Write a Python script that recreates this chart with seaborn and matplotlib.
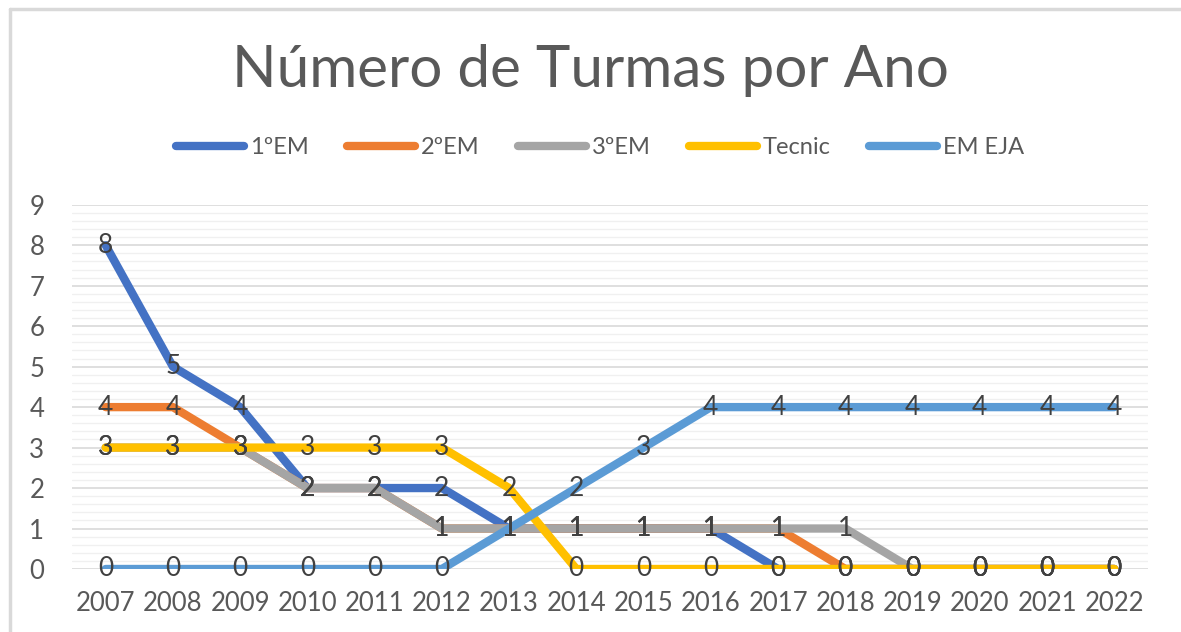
"""
Número de Turmas por Ano - line chart recreation
"""
import numpy as np
import pandas as pd
import matplotlib
matplotlib.use("Agg")
import matplotlib.pyplot as plt
from matplotlib.lines import Line2D
import seaborn as sns

# Data
years = [2007, 2008, 2009, 2010, 2011, 2012, 2013, 2014,
         2015, 2016, 2017, 2018, 2019, 2020, 2021, 2022]
series_names = ['1ºEM', '2ºEM', '3ºEM', 'Tecnic', 'EM EJA']
em1 = [8, 5, 4, 2, 2, 2, 1, 1, 1, 1, 0, 0, 0, 0, 0, 0]
em2 = [4, 4, 3, 2, 2, 1, 1, 1, 1, 1, 1, 0, 0, 0, 0, 0]
em3 = [3, 3, 3, 2, 2, 1, 1, 1, 1, 1, 1, 1, 0, 0, 0, 0]
tecnic = [3, 3, 3, 3, 3, 3, 2, 0, 0, 0, 0, 0, 0, 0, 0, 0]
em_eja = [0, 0, 0, 0, 0, 0, 1, 2, 3, 4, 4, 4, 4, 4, 4, 4]
colors = ['#4472C4', '#ED7D31', '#A5A5A5', '#FFC000', '#5B9BD5']

# Build long-form table for seaborn
values = [em1, em2, em3, tecnic, em_eja]
df = pd.DataFrame({
    'Ano': np.tile(years, len(series_names)),
    'Turmas': np.concatenate(values),
    'Serie': np.repeat(series_names, len(years)),
})

sns.set_theme(style='white')
plt.rcParams['font.family'] = ['Lato', 'DejaVu Sans']

text_color = '#595959'
lw = 6.0
fig = plt.figure(figsize=(11.81, 6.32), dpi=100)
ax = fig.add_axes([0.061, 0.0997, 0.911, 0.5763])

sns.lineplot(data=df, x='Ano', y='Turmas', hue='Serie', hue_order=series_names,
             palette=colors, linewidth=lw, ax=ax, legend=False,
             solid_capstyle='round', solid_joinstyle='round')

# data labels
for vals in values:
    for yr, v in zip(years, vals):
        ax.text(yr, v, str(v), ha='center', va='center', fontsize=19,
                color='#404040', zorder=10)

ax.set_xlim(2006.5, 2022.5)
ax.set_ylim(0, 9)
ax.set_xticks(years)
ax.set_xticklabels([str(y) for y in years])
ax.set_yticks(range(10))
ax.set_yticks(np.arange(0, 9.01, 0.2), minor=True)
ax.grid(True, which='major', axis='y', color='#D9D9D9', linewidth=1.2, zorder=0)
ax.grid(True, which='minor', axis='y', color='#F0F0F0', linewidth=1.0, zorder=0)
ax.set_axisbelow(True)
for s in ax.spines.values():
    s.set_visible(False)
ax.tick_params(axis='both', which='both', length=0, labelsize=18.5,
               labelcolor=text_color)
ax.tick_params(axis='y', pad=20)
ax.tick_params(axis='x', pad=16)
ax.set_xlabel('')
ax.set_ylabel('')

# title and legend
fig.text(0.5, 0.888, 'Número de Turmas por Ano', ha='center', va='center',
         fontsize=42, color=text_color)
handles = [Line2D([0], [0], color=c, linewidth=lw, solid_capstyle='round')
           for c in colors]
fig.legend(handles, series_names, loc='center', bbox_to_anchor=(0.508, 0.766),
           ncol=5, frameon=False, fontsize=17, handlelength=2.9,
           handletextpad=0.25, columnspacing=1.6, labelcolor=text_color)

# chart frame (top and left edges visible)
fig.add_artist(Line2D([0.0085, 1.0], [0.985, 0.985], color='#D9D9D9',
                      linewidth=2.5, transform=fig.transFigure))
fig.add_artist(Line2D([0.0085, 0.0085], [0.0, 0.985], color='#D9D9D9',
                      linewidth=2.5, transform=fig.transFigure))

fig.savefig('out.png', dpi=100, facecolor='white')
